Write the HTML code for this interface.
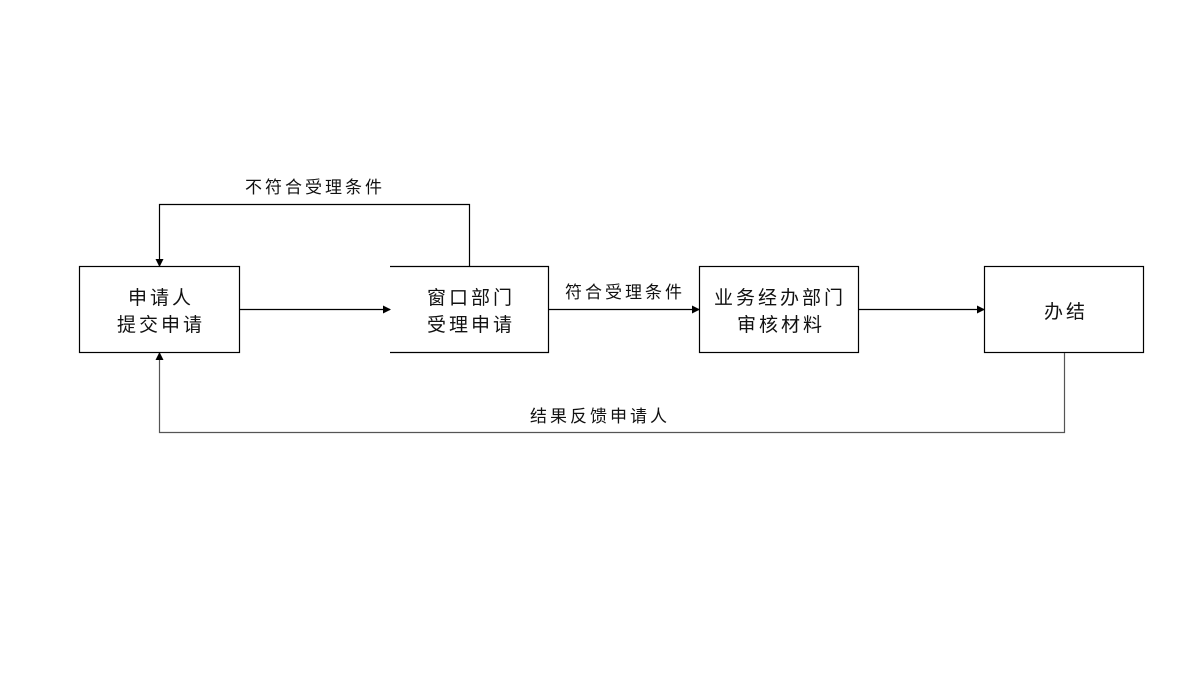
<!DOCTYPE html>
<html><head><meta charset="utf-8"><style>
body{margin:0;width:1200px;height:675px;background:#fff;overflow:hidden}
text{font-family:"Liberation Sans","Noto Sans CJK SC",sans-serif;fill:#111}
</style></head><body>
<svg width="1200" height="675" viewBox="0 0 1200 675">
<defs><marker id="a" markerWidth="8" markerHeight="8" refX="7" refY="4" orient="auto" markerUnits="userSpaceOnUse"><path d="M0,0 L8,4 L0,8z" fill="#000"/></marker></defs>
<g fill="none" stroke="#000" stroke-width="1.2">
<rect x="79.5" y="266.5" width="160" height="86"/>
<path d="M390 266.5 H548.5 V352.5 H390"/>
<rect x="699.5" y="266.5" width="159" height="86"/>
<rect x="984.5" y="266.5" width="159" height="86"/>
<path d="M239.5 309.5 H390" marker-end="url(#a)"/>
<path d="M548.5 309.5 H699" marker-end="url(#a)"/>
<path d="M858.5 309.5 H984" marker-end="url(#a)"/>
<path d="M469.5 266 V204.5 H159.5 V266" marker-end="url(#a)"/>
<path d="M1064.5 353 V432.5 H159.5 V353" stroke="#555" marker-end="url(#a)"/>
</g>
<g font-size="19" text-anchor="middle" letter-spacing="3">
<text x="161" y="304">申请人</text><text x="161" y="331">提交申请</text>
<text x="471" y="304">窗口部门</text><text x="471" y="331">受理申请</text>
<text x="780" y="304">业务经办部门</text><text x="781" y="331">审核材料</text>
<text x="1066" y="318">办结</text>
</g>
<g font-size="17" text-anchor="middle" letter-spacing="3">
<text x="315" y="193">不符合受理条件</text>
<text x="625" y="298">符合受理条件</text>
<text x="600" y="422">结果反馈申请人</text>
</g>
</svg>
</body></html>
